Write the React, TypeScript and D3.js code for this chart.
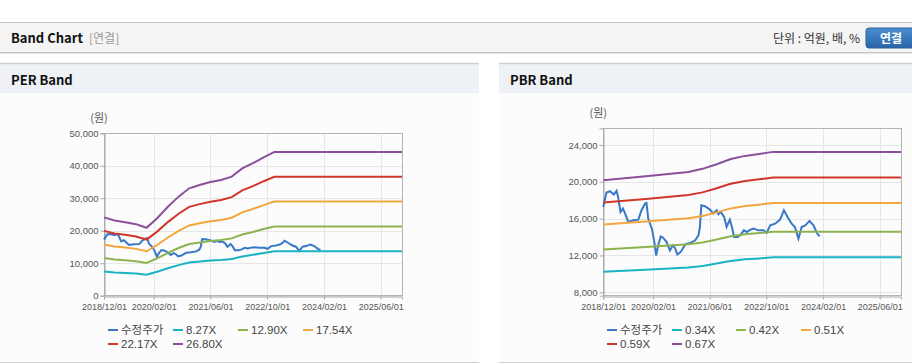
import React, { useEffect, useRef } from 'react';
import * as d3 from 'd3';

// x axis
const xStart = '2018-12-01';
const xEnd = '2025-12-01';
const xTickDates = ['2018-12-01', '2020-02-01', '2021-06-01', '2022-10-01', '2024-02-01', '2025-06-01'];
const xTickLabels = ['2018/12/01', '2020/02/01', '2021/06/01', '2022/10/01', '2024/02/01', '2025/06/01'];

// 수정주가 (same for both panels)
const priceDates = [
  '2018-12-01', '2018-12-28', '2019-01-28', '2019-03-01', '2019-03-25', '2019-04-07', '2019-04-28',
  '2019-05-19', '2019-06-04', '2019-07-04', '2019-08-16', '2019-09-28', '2019-10-25', '2019-11-25',
  '2019-12-07', '2019-12-22', '2020-01-22', '2020-02-10', '2020-02-28', '2020-03-16', '2020-04-07',
  '2020-04-28', '2020-05-28', '2020-06-25', '2020-07-19', '2020-08-07', '2020-08-28', '2020-09-25',
  '2020-11-04', '2020-12-16', '2021-01-28', '2021-02-25', '2021-03-10', '2021-03-22', '2021-04-22',
  '2021-06-04', '2021-07-04', '2021-08-01', '2021-08-16', '2021-09-04', '2021-10-04', '2021-10-25',
  '2021-11-22', '2021-12-10', '2021-12-28', '2022-01-28', '2022-02-19', '2022-03-22', '2022-04-16',
  '2022-05-19', '2022-06-13', '2022-07-25', '2022-09-07', '2022-10-04', '2022-11-04', '2022-12-16',
  '2023-01-28', '2023-03-01', '2023-04-10', '2023-05-07', '2023-06-04', '2023-07-04', '2023-08-01',
  '2023-09-01', '2023-10-07', '2023-11-10', '2023-12-10', '2024-01-01',
];
const priceValues = [
  17270, 18840, 18980, 18620, 19020, 18360, 16730,
  17090, 16620, 15640, 15820, 15890, 16910, 17640,
  17710, 16000, 14910, 13640, 12000, 13090, 14070,
  13930, 13450, 12550, 13090, 12840, 12110, 12360,
  13200, 13350, 13640, 14180, 15090, 17450, 17350,
  16980, 16550, 16910, 16470, 16730, 16180, 15090,
  15890, 15090, 14000, 14000, 14180, 14730, 14550,
  14800, 14910, 14730, 14730, 14440, 15270, 15450,
  15890, 16910, 16000, 15450, 15090, 13820, 15090,
  15270, 15750, 15270, 14440, 14070,
];

// PER band
const perDates = [
  '2018-12-01', '2019-03-01', '2019-06-01', '2019-09-01', '2019-12-01', '2020-03-01', '2020-06-01',
  '2020-09-01', '2020-12-01', '2021-03-01', '2021-06-01', '2021-09-01', '2021-12-01', '2022-03-01',
  '2022-06-01', '2022-09-01', '2022-12-01', '2025-12-01',
];
const perLabels = ['8.27X', '12.90X', '17.54X', '22.17X', '26.80X'];
const per827 = [7443, 7154, 6988, 6798, 6451, 7360, 8452, 9411, 10205, 10519, 10801, 10999, 11313, 12091, 12587, 13149, 13662, 13662];
const per1290 = [11610, 11159, 10901, 10604, 10062, 11481, 13184, 14680, 15919, 16409, 16847, 17157, 17647, 18860, 19634, 20511, 21311, 21311];
const per1754 = [15786, 15172, 14821, 14418, 13681, 15611, 17926, 19961, 21644, 22311, 22907, 23328, 23995, 25643, 26696, 27889, 28976, 28976];
const per2217 = [19953, 19177, 18734, 18224, 17293, 19731, 22658, 25229, 27358, 28200, 28954, 29486, 30329, 32413, 33743, 35250, 36625, 36625];
const per2680 = [24120, 23182, 22646, 22030, 20904, 23852, 27390, 30498, 33071, 34090, 35001, 35644, 36662, 39182, 40790, 42612, 44274, 44274];
const perYTicks = [0, 10000, 20000, 30000, 40000, 50000];

// PBR band
const pbrDates = [
  '2018-12-01', '2019-12-01', '2020-12-01', '2021-04-01', '2021-08-01', '2021-11-01', '2021-12-01',
  '2022-04-01', '2022-08-01', '2022-12-01', '2025-12-01',
];
const pbrLabels = ['0.34X', '0.42X', '0.51X', '0.59X', '0.67X'];
const pbr034 = [10234, 10455, 10693, 10863, 11118, 11339, 11407, 11577, 11679, 11798, 11798];
const pbr042 = [12642, 12915, 13209, 13419, 13734, 14007, 14091, 14301, 14427, 14574, 14574];
const pbr051 = [15351, 15683, 16040, 16295, 16677, 17009, 17111, 17366, 17519, 17697, 17697];
const pbr059 = [17759, 18143, 18556, 18851, 19293, 19677, 19795, 20090, 20267, 20473, 20473];
const pbr067 = [20167, 20603, 21072, 21407, 21909, 22345, 22479, 22814, 23015, 23249, 23249];
const pbrYTicks = [8000, 12000, 16000, 20000, 24000];

const priceLabel = '수정주가';
const colors = ['#3878c8', '#1ab3c6', '#8db351', '#f2a73e', '#d1352b', '#8b509c'];

const parse = d3.timeParse('%Y-%m-%d');
const KR = '"Noto Sans CJK KR", "Liberation Sans", sans-serif';
const NUM = '"Liberation Sans", Arial, sans-serif';

function drawPanel(svg: any, cfg: any) {
  const { left, right, top, bottom, yDomain, yTicks, bandDates, bands, labels, legendX } = cfg;
  const x = d3.scaleTime().domain([parse(xStart)!, parse(xEnd)!]).range([left, right]);
  const y = d3.scaleLinear().domain(yDomain).range([bottom, top]);
  const g = svg.append('g');

  // grid
  g.selectAll('.hg')
    .data(yTicks)
    .enter()
    .append('line')
    .attr('x1', left)
    .attr('x2', right)
    .attr('y1', (d: number) => Math.round(y(d)) + 0.5)
    .attr('y2', (d: number) => Math.round(y(d)) + 0.5)
    .attr('stroke', '#e6e6e6');
  g.selectAll('.vg')
    .data(xTickDates.slice(1))
    .enter()
    .append('line')
    .attr('x1', (d: string) => Math.round(x(parse(d)!)) + 0.5)
    .attr('x2', (d: string) => Math.round(x(parse(d)!)) + 0.5)
    .attr('y1', top)
    .attr('y2', bottom)
    .attr('stroke', '#e6e6e6');

  // frame
  g.append('rect')
    .attr('x', Math.round(left) + 0.5)
    .attr('y', Math.round(top) + 0.5)
    .attr('width', Math.round(right - left))
    .attr('height', Math.round(bottom - top))
    .attr('fill', 'none')
    .attr('stroke', '#b4b4b4');

  // y axis
  const yAxis = g
    .append('g')
    .attr('transform', `translate(${Math.round(left) + 0.5},0)`)
    .call(d3.axisLeft(y).tickValues(yTicks).tickSize(4).tickPadding(2).tickFormat(d3.format(',')));
  yAxis.select('.domain').attr('stroke', '#a8a8a8');
  yAxis.selectAll('line').attr('stroke', '#a8a8a8');
  yAxis.selectAll('text').attr('fill', '#555').attr('font-size', 9.5).attr('font-family', NUM);

  // x axis
  const xAxis = g
    .append('g')
    .attr('transform', `translate(0,${Math.round(bottom) + 0.5})`)
    .call(
      d3
        .axisBottom(x)
        .tickValues(xTickDates.map((d) => parse(d)!))
        .tickSize(3)
        .tickPadding(4)
        .tickFormat((d: any, i: number) => xTickLabels[i])
    );
  xAxis.select('.domain').attr('stroke', '#a8a8a8');
  xAxis.selectAll('line').attr('stroke', '#a8a8a8');
  xAxis.selectAll('text').attr('fill', '#555').attr('font-size', 9).attr('font-family', NUM);

  g.append('text')
    .attr('x', left - 5)
    .attr('y', top - 11)
    .attr('text-anchor', 'middle')
    .attr('font-size', 11)
    .attr('font-family', KR)
    .attr('fill', '#555')
    .text('(원)');

  // lines
  const line = d3
    .line<[Date, number]>()
    .x((d) => x(d[0]))
    .y((d) => y(d[1]));
  const price: [Date, number][] = priceDates.map((d, i) => [parse(d)!, priceValues[i]]);
  g.append('path').attr('d', line(price)).attr('fill', 'none').attr('stroke', colors[0]).attr('stroke-width', 2);
  bands.forEach((vals: number[], k: number) => {
    const pts: [Date, number][] = bandDates.map((d: string, i: number) => [parse(d)!, vals[i]]);
    g.append('path')
      .attr('d', line(pts))
      .attr('fill', 'none')
      .attr('stroke', colors[k + 1])
      .attr('stroke-width', 2);
  });

  // legend
  const items = [priceLabel, ...labels];
  items.forEach((lab: string, i: number) => {
    const lx = legendX[i % 4];
    const ly = i < 4 ? 330 : 344;
    g.append('line')
      .attr('x1', lx)
      .attr('x2', lx + 10)
      .attr('y1', ly)
      .attr('y2', ly)
      .attr('stroke', colors[i])
      .attr('stroke-width', 2);
    g.append('text')
      .attr('x', lx + 13)
      .attr('y', ly + 4)
      .attr('font-size', 11.5)
      .attr('font-family', i === 0 ? KR : NUM)
      .attr('fill', '#444')
      .text(lab);
  });
}

function App() {
  const svgRef = useRef<SVGSVGElement>(null);
  useEffect(() => {
    const svg = d3.select(svgRef.current);
    svg.selectAll('*').remove();

    // top bar
    svg.append('rect').attr('x', 0).attr('y', 22).attr('width', 912).attr('height', 31).attr('fill', '#f4f4f4');
    svg.append('line').attr('x1', 0).attr('x2', 912).attr('y1', 22.5).attr('y2', 22.5).attr('stroke', '#c2c2c2');
    svg.append('line').attr('x1', 0).attr('x2', 912).attr('y1', 52.5).attr('y2', 52.5).attr('stroke', '#c6c6c6');
    svg.append('line').attr('x1', 0).attr('x2', 912).attr('y1', 53.5).attr('y2', 53.5).attr('stroke', '#e4e4e4');
    svg.append('text').attr('x', 11).attr('y', 43).attr('font-size', 13).attr('font-weight', 'bold')
      .attr('font-family', KR).attr('fill', '#111').text('Band Chart');
    svg.append('text').attr('x', 89).attr('y', 43).attr('font-size', 12)
      .attr('font-family', KR).attr('fill', '#999').text('[연결]');
    svg.append('text').attr('x', 860).attr('y', 43).attr('text-anchor', 'end').attr('font-size', 12)
      .attr('font-family', KR).attr('fill', '#333').text('단위 : 억원, 배, %');

    const grad = svg.append('defs').append('linearGradient').attr('id', 'btn').attr('x1', 0).attr('x2', 0).attr('y1', 0).attr('y2', 1);
    grad.append('stop').attr('offset', 0).attr('stop-color', '#4a8fd0');
    grad.append('stop').attr('offset', 1).attr('stop-color', '#2865a8');
    svg.append('rect').attr('x', 866).attr('y', 28).attr('width', 52).attr('height', 20).attr('rx', 3)
      .attr('fill', 'url(#btn)').attr('stroke', '#2a5f9c');
    svg.append('text').attr('x', 891).attr('y', 42.5).attr('text-anchor', 'middle').attr('font-size', 12)
      .attr('font-weight', 'bold').attr('font-family', KR).attr('fill', '#fff').text('연결');

    // panels
    [
      [0, 479, 'PER Band'],
      [499, 912, 'PBR Band'],
    ].forEach(([x0, x1, title]: any) => {
      svg.append('rect').attr('x', x0).attr('y', 64).attr('width', x1 - x0).attr('height', 29).attr('fill', '#eef1f6');
      svg.append('line').attr('x1', x0).attr('x2', x1).attr('y1', 63.5).attr('y2', 63.5).attr('stroke', '#d0d0d0').attr('stroke-width', 1.5);
      svg.append('rect').attr('x', x0).attr('y', 93).attr('width', x1 - x0).attr('height', 269).attr('fill', '#fcfcfc');
      svg.append('line').attr('x1', x0).attr('x2', x1).attr('y1', 362.5).attr('y2', 362.5).attr('stroke', '#d0d0d0');
      svg.append('text').attr('x', x0 + 11).attr('y', 85).attr('font-size', 13).attr('font-weight', 'bold')
        .attr('font-family', KR).attr('fill', '#111').text(title);
    });

    drawPanel(svg, {
      left: 104,
      right: 402,
      top: 133.3,
      bottom: 295.7,
      yDomain: [0, 50000],
      yTicks: perYTicks,
      bandDates: perDates,
      bands: [per827, per1290, per1754, per2217, per2680],
      labels: perLabels,
      legendX: [108, 173, 238, 303],
    });
    drawPanel(svg, {
      left: 603.3,
      right: 901,
      top: 128.3,
      bottom: 295.7,
      yDomain: [7630, 25810],
      yTicks: pbrYTicks,
      bandDates: pbrDates,
      bands: [pbr034, pbr042, pbr051, pbr059, pbr067],
      labels: pbrLabels,
      legendX: [607, 672, 736, 801],
    });
  }, []);

  return (
    <div style={{ position: 'absolute', left: 0, top: 0, background: '#fff' }}>
      <svg ref={svgRef} width={912} height={364} style={{ display: 'block' }} />
    </div>
  );
}

export default App;
